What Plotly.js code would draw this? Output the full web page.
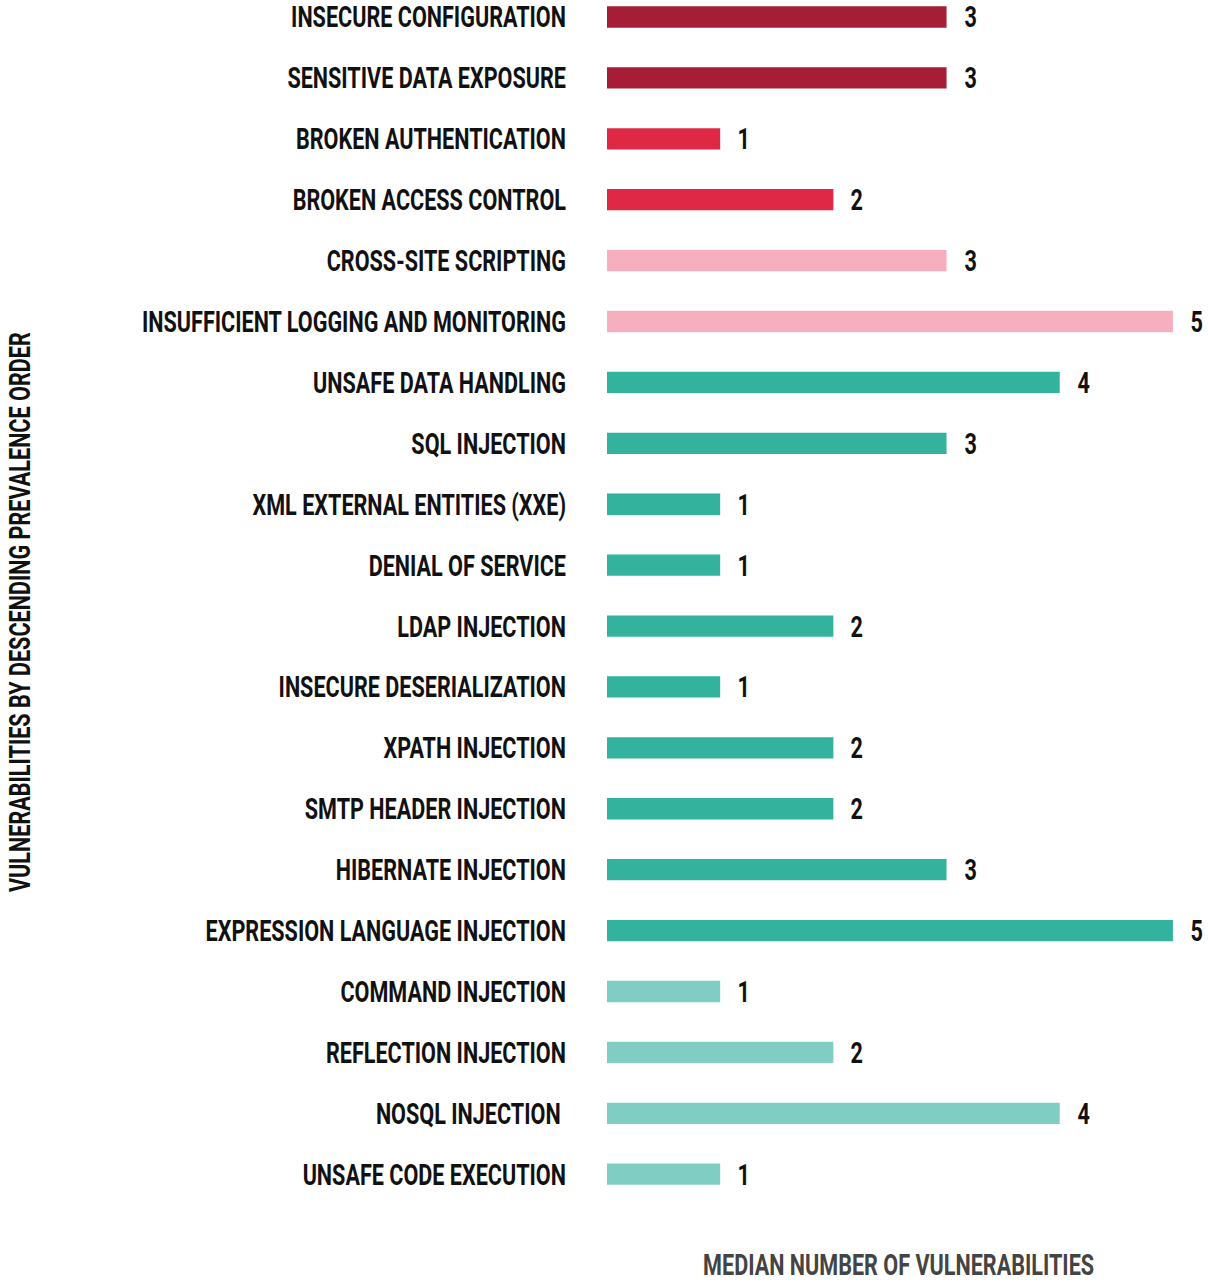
<!DOCTYPE html>
<html>
<head>
<meta charset="utf-8">
<script src="https://cdn.plot.ly/plotly-3.0.1.min.js"></script>
<style>
  html, body { margin: 0; padding: 0; background: #fff; }
  #chart { width: 1208px; height: 1283px; }
</style>
</head>
<body>
<div id="chart"></div>
<script>
const categories = [
  "INSECURE CONFIGURATION",
  "SENSITIVE DATA EXPOSURE",
  "BROKEN AUTHENTICATION",
  "BROKEN ACCESS CONTROL",
  "CROSS-SITE SCRIPTING",
  "INSUFFICIENT LOGGING AND MONITORING",
  "UNSAFE DATA HANDLING",
  "SQL INJECTION",
  "XML EXTERNAL ENTITIES (XXE)",
  "DENIAL OF SERVICE",
  "LDAP INJECTION",
  "INSECURE DESERIALIZATION",
  "XPATH INJECTION",
  "SMTP HEADER INJECTION",
  "HIBERNATE INJECTION",
  "EXPRESSION LANGUAGE INJECTION",
  "COMMAND INJECTION",
  "REFLECTION INJECTION",
  "NOSQL INJECTION\u00a0",
  "UNSAFE CODE EXECUTION"
];
const values = [3, 3, 1, 2, 3, 5, 4, 3, 1, 1, 2, 1, 2, 2, 3, 5, 1, 2, 4, 1];
const groups = ["g1","g1","g2","g2","g3","g3","g4","g4","g4","g4","g4","g4","g4","g4","g4","g4","g5","g5","g5","g5"];
const groupColors = { g1: "#A61E35", g2: "#DE2846", g3: "#F5AFBF", g4: "#33B39E", g5: "#80CDC4" };
const xTitle = "MEDIAN NUMBER OF VULNERABILITIES";
const yTitle = "VULNERABILITIES BY DESCENDING PREVALENCE ORDER";

const FONT = "Roboto, 'Noto Sans', sans-serif";
const FSIZE = 30;

const trace = {
  type: "bar",
  orientation: "h",
  y: categories,
  x: values,
  width: 0.35,
  marker: { color: groups.map(g => groupColors[g]), line: { width: 0 } },
  hoverinfo: "skip"
};

const valueAnnotations = values.map((v, i) => ({
  x: v, y: categories[i], xref: "x", yref: "y",
  text: String(v), showarrow: false,
  xanchor: "left", yanchor: "middle", xshift: 14, borderpad: 0,
  font: { family: FONT, size: FSIZE, color: "#111", weight: "bold" }
}));

const plotW = 1208 - 607, plotH = 1283 - 68;

const layout = {
  width: 1208,
  height: 1283,
  margin: { l: 607, r: 0, t: 0, b: 68 },
  paper_bgcolor: "#fff",
  plot_bgcolor: "#fff",
  showlegend: false,
  xaxis: {
    range: [0, 5.31],
    showgrid: false, zeroline: false, showline: false,
    showticklabels: false, ticks: "", fixedrange: true
  },
  yaxis: {
    type: "category",
    categoryorder: "array",
    categoryarray: categories,
    range: [19.67, -0.279],
    showgrid: false, zeroline: false, showline: false,
    ticks: "",
    ticklabelstandoff: 40,
    tickfont: { family: FONT, size: FSIZE, color: "#111", weight: "bold" },
    fixedrange: true
  },
  annotations: valueAnnotations.concat([
    {
      text: xTitle,
      xref: "paper", yref: "paper",
      x: (898 - 607) / plotW, y: (plotH - 1283) / plotH,
      xanchor: "center", yanchor: "bottom",
      showarrow: false, borderpad: 0,
      font: { family: FONT, size: FSIZE, color: "#444", weight: "bold" }
    },
    {
      text: yTitle,
      xref: "paper", yref: "paper",
      x: (19 - 607) / plotW, y: (plotH - 612) / plotH,
      xanchor: "center", yanchor: "middle",
      textangle: -90,
      showarrow: false, borderpad: 0,
      font: { family: FONT, size: FSIZE, color: "#111", weight: "bold" }
    }
  ])
};

// horizontal condensing of the text to mimic the condensed typeface
const LONGEST_LABEL_PX = 424;
function condense() {
  const gd = document.getElementById("chart");
  const ticks = Array.from(gd.querySelectorAll(".ytick text"));
  let maxLen = 0;
  ticks.forEach(t => { maxLen = Math.max(maxLen, t.getComputedTextLength()); });
  const k = LONGEST_LABEL_PX / maxLen;
  const all = ticks.concat(Array.from(gd.querySelectorAll(".annotation-text")));
  all.forEach(t => {
    const len = t.getComputedTextLength();
    t.setAttribute("textLength", (len * k).toFixed(2));
    t.setAttribute("lengthAdjust", "spacingAndGlyphs");
  });
}

Plotly.newPlot("chart", [trace], layout, { displayModeBar: false, staticPlot: true }).then(condense);
</script>
</body>
</html>
